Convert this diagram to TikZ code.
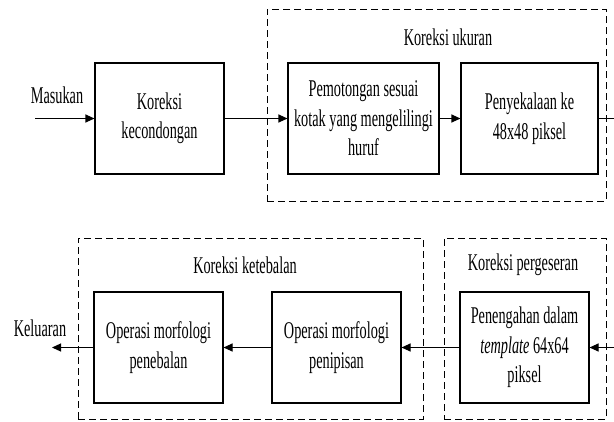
\documentclass[tikz,border=0pt]{standalone}
\usepackage{fontspec}
\setmainfont{Liberation Serif}[FakeStretch=0.595]
\usetikzlibrary{arrows.meta}
\begin{document}
\begin{tikzpicture}[x=1pt,y=-1pt,
  blk/.style={draw,line width=1.1pt,align=center,inner sep=0pt,minimum height=111pt,font=\fontsize{24}{29.5}\selectfont},
  grp/.style={draw,line width=0.9pt,dash pattern=on 7pt off 4pt,inner sep=0pt},
  lbl/.style={inner sep=0pt,font=\fontsize{24}{29.5}\selectfont},
  conn/.style={line width=1.1pt,-{Triangle[length=9pt,width=8pt]}},
  plain/.style={line width=1.1pt}]
\useasboundingbox (0,0) rectangle (614,421);
% groups
\node[grp,minimum width=339pt,minimum height=192pt] (gU) at (436.5,105) {};
\node[grp,minimum width=345pt,minimum height=181pt] (gK) at (250.5,328.5) {};
\node[grp,minimum width=162pt,minimum height=181pt] (gP) at (525,328.5) {};
\node[lbl] (tU) at (448,37) {Koreksi ukuran};
\node[lbl] (tK) at (245,265) {Koreksi ketebalan};
\node[lbl] (tP) at (523,265) {Koreksi pergeseran};
% blocks
\node[blk,minimum width=129pt] (b1) at (159.5,118.5) {Koreksi\\kecondongan};
\node[blk,minimum width=151pt] (b2) at (363.5,118.5) {Pemotongan sesuai\\kotak yang mengelilingi\\huruf};
\node[blk,minimum width=137pt] (b3) at (529.5,118.5) {Penyekalaan ke\\48x48 piksel};
\node[blk,minimum width=129pt] (b4) at (524.5,347.5) {Penengahan dalam\\\textit{template} 64x64\\piksel};
\node[blk,minimum width=129pt] (b5) at (336.5,347.5) {Operasi morfologi\\penipisan};
\node[blk,minimum width=129pt] (b6) at (158.5,347.5) {Operasi morfologi\\penebalan};
% labels
\node[lbl] (mIn) at (57,95) {Masukan};
\node[lbl] (mOut) at (40,328) {Keluaran};
\coordinate (in) at (35,118.5);
\coordinate (out1) at (615,118.5);
\coordinate (in2) at (615,347.5);
\coordinate (out) at (52,347.5);
% connectors
\draw[conn] (in) -- (b1.west);
\draw[conn] (b1.east) -- (b2.west);
\draw[conn] (b2.east) -- (b3.west);
\draw[plain] (b3.east) -- (out1);
\draw[conn] (in2) -- (b4.east);
\draw[conn] (b4.west) -- (b5.east);
\draw[conn] (b5.west) -- (b6.east);
\draw[conn] (b6.west) -- (out);
\end{tikzpicture}
\end{document}
